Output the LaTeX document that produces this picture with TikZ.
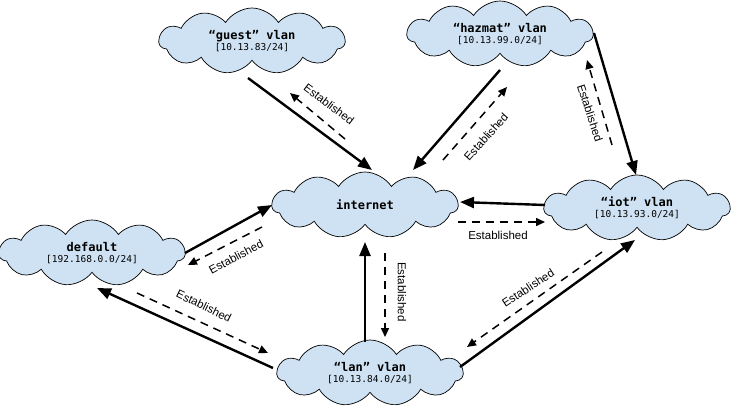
\documentclass[tikz,border=0pt]{standalone}
\usepackage{fontspec}
\setmainfont{Liberation Sans}
\newfontfamily\cloudmono{DejaVu Sans Mono}
\usetikzlibrary{shapes.symbols,arrows.meta,calc}
\definecolor{cloudblue}{HTML}{CFE2F3}
\newcommand{\cloudtext}[2]{{\cloudmono\bfseries\fontsize{12}{13}\selectfont #1}\\[-1pt]{\cloudmono\fontsize{9.5}{11}\selectfont #2}}
\tikzset{
  vlan/.style={cloud, cloud puffs=11, cloud puff arc=115, cloud ignores aspect,
    draw=black, line width=0.7pt, fill=cloudblue, minimum width=186pt, minimum height=66pt,
    align=center, inner sep=0pt},
  conn/.style={line width=2.4pt, -{Triangle[length=14pt,width=11pt]}},
  estab/.style={line width=1.5pt, dash pattern=on 8pt off 6pt, -{Triangle[length=9pt,width=8pt]}},
  elabel/.style={font=\fontsize{11.5}{12}\selectfont, inner sep=0pt},
}
\begin{document}
\begin{tikzpicture}[x=1pt,y=-1pt]
\useasboundingbox[fill=white] (0,0) rectangle (731,408);
\node[vlan] (guest) at (252,41) {\cloudtext{“guest” vlan}{[10.13.83/24]}};
\node[vlan] (hazmat) at (500,34) {\cloudtext{“hazmat” vlan}{[10.13.99.0/24]}};
\node[vlan] (internet) at (365,205) {{\cloudmono\bfseries\fontsize{12}{13}\selectfont internet}};
\node[vlan] (iot) at (637,208) {\cloudtext{“iot” vlan}{[10.13.93.0/24]}};
\node[vlan] (default) at (92,253) {\cloudtext{default}{[192.168.0.0/24]}};
\node[vlan] (lan) at (370,373) {\cloudtext{“lan” vlan}{[10.13.84.0/24]}};

% guest <-> internet
\draw[conn] ($(guest)+(-4,37)$) -- ($(internet)+(7,-35)$);
\draw[estab] ($(internet)+(-20,-66)$) -- ($(guest)+(38,52)$);
\node[elabel, rotate=-37] (l1) at (329,104) {Established};

% hazmat <-> internet
\draw[conn] ($(hazmat)+(0,36)$) -- ($(internet)+(48,-35)$);
\draw[estab] ($(internet)+(78,-45)$) -- ($(hazmat)+(7,53)$);
\node[elabel, rotate=48] (l2) at (486,137) {Established};

% hazmat <-> iot
\draw[conn] ($(hazmat)+(94,-1)$) -- ($(iot)+(-1,-33)$);
\draw[estab] ($(iot)+(-25,-63)$) -- ($(hazmat)+(87,26)$);
\node[elabel, rotate=-72] (l3) at (590,113) {Established};

% iot <-> internet
\draw[conn] ($(iot)+(-92,-3)$) -- ($(internet)+(95,-3)$);
\draw[estab] ($(internet)+(93,17)$) -- ($(iot)+(-92,14)$);
\node[elabel] (l4) at (498,235) {Established};

% default <-> internet
\draw[conn] ($(default)+(93,0)$) -- ($(internet)+(-93,0)$);
\draw[estab] ($(internet)+(-103,22)$) -- ($(default)+(96,12)$);
\node[elabel, rotate=28] (l5) at (236,257) {Established};

% lan <-> default
\draw[conn] ($(lan)+(-97,-5)$) -- ($(default)+(5,35)$);
\draw[estab] ($(default)+(45,40)$) -- ($(lan)+(-102,-20)$);
\node[elabel, rotate=-26] (l6) at (204,306) {Established};

% lan <-> internet
\draw[conn] ($(lan)+(-5,-31)$) -- ($(internet)+(0,37)$);
\draw[estab] ($(internet)+(20,48)$) -- ($(lan)+(15,-36)$);
\node[elabel, rotate=-90] (l7) at (402,292) {Established};

% lan <-> iot
\draw[conn] ($(lan)+(90,-6)$) -- ($(iot)+(-2,32)$);
\draw[estab] ($(iot)+(-35,44)$) -- ($(lan)+(97,-26)$);
\node[elabel, rotate=33] (l8) at (528,288) {Established};
\end{tikzpicture}
\end{document}
